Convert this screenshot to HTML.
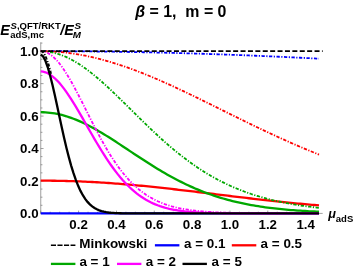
<!DOCTYPE html>
<html><head><meta charset="utf-8">
<style>
html,body{margin:0;padding:0;background:#fff;}
body{width:354px;height:272px;overflow:hidden;}
svg{display:block;will-change:transform;}
text{font-family:"Liberation Sans",sans-serif;font-weight:bold;fill:#000;}
.tk{font-size:13.3px;}
.lg{font-size:13.45px;}
.it{font-style:italic;}
</style></head><body>
<svg width="354" height="272" viewBox="0 0 354 272">
<rect width="354" height="272" fill="#fff"/>
<path d="M40.75,42.28 V213.40 M40.75,213.40 H322.66" stroke="#606060" stroke-width="0.6" fill="none"/>
<path d="M40.75,213.40 h2.8 M40.75,205.29 h1.7 M40.75,197.18 h1.7 M40.75,189.07 h1.7 M40.75,180.96 h2.8 M40.75,172.85 h1.7 M40.75,164.74 h1.7 M40.75,156.63 h1.7 M40.75,148.52 h2.8 M40.75,140.41 h1.7 M40.75,132.30 h1.7 M40.75,124.19 h1.7 M40.75,116.08 h2.8 M40.75,107.97 h1.7 M40.75,99.86 h1.7 M40.75,91.75 h1.7 M40.75,83.64 h2.8 M40.75,75.53 h1.7 M40.75,67.42 h1.7 M40.75,59.31 h1.7 M40.75,51.20 h2.8 M40.75,43.09 h1.7 M40.75,213.40 v-2.8 M50.21,213.40 v-1.7 M59.67,213.40 v-1.7 M69.13,213.40 v-1.7 M78.59,213.40 v-2.8 M88.05,213.40 v-1.7 M97.51,213.40 v-1.7 M106.97,213.40 v-1.7 M116.43,213.40 v-2.8 M125.89,213.40 v-1.7 M135.35,213.40 v-1.7 M144.81,213.40 v-1.7 M154.27,213.40 v-2.8 M163.73,213.40 v-1.7 M173.19,213.40 v-1.7 M182.65,213.40 v-1.7 M192.11,213.40 v-2.8 M201.57,213.40 v-1.7 M211.03,213.40 v-1.7 M220.49,213.40 v-1.7 M229.95,213.40 v-2.8 M239.41,213.40 v-1.7 M248.87,213.40 v-1.7 M258.33,213.40 v-1.7 M267.79,213.40 v-2.8 M277.25,213.40 v-1.7 M286.71,213.40 v-1.7 M296.17,213.40 v-1.7 M305.63,213.40 v-2.8 M315.09,213.40 v-1.7" stroke="#606060" stroke-width="0.6" fill="none"/>
<path d="M40.75,51.20 L43.09,51.20 L45.43,51.20 L47.76,51.20 L50.10,51.21 L52.44,51.21 L54.78,51.22 L57.12,51.23 L59.46,51.23 L61.79,51.24 L64.13,51.25 L66.47,51.27 L68.81,51.28 L71.15,51.29 L73.49,51.31 L75.82,51.32 L78.16,51.34 L80.50,51.36 L82.84,51.38 L85.18,51.40 L87.52,51.42 L89.85,51.44 L92.19,51.46 L94.53,51.49 L96.87,51.51 L99.21,51.54 L101.55,51.57 L103.88,51.60 L106.22,51.63 L108.56,51.66 L110.90,51.69 L113.24,51.72 L115.58,51.76 L117.91,51.79 L120.25,51.83 L122.59,51.87 L124.93,51.90 L127.27,51.94 L129.60,51.98 L131.94,52.03 L134.28,52.07 L136.62,52.11 L138.96,52.16 L141.30,52.20 L143.63,52.25 L145.97,52.30 L148.31,52.35 L150.65,52.40 L152.99,52.45 L155.33,52.50 L157.66,52.56 L160.00,52.61 L162.34,52.67 L164.68,52.72 L167.02,52.78 L169.36,52.84 L171.69,52.90 L174.03,52.96 L176.37,53.02 L178.71,53.08 L181.05,53.15 L183.39,53.21 L185.72,53.28 L188.06,53.35 L190.40,53.41 L192.74,53.48 L195.08,53.55 L197.42,53.62 L199.75,53.70 L202.09,53.77 L204.43,53.84 L206.77,53.92 L209.11,54.00 L211.45,54.07 L213.78,54.15 L216.12,54.23 L218.46,54.31 L220.80,54.39 L223.14,54.48 L225.47,54.56 L227.81,54.64 L230.15,54.73 L232.49,54.82 L234.83,54.90 L237.17,54.99 L239.50,55.08 L241.84,55.17 L244.18,55.26 L246.52,55.36 L248.86,55.45 L251.20,55.54 L253.53,55.64 L255.87,55.74 L258.21,55.83 L260.55,55.93 L262.89,56.03 L265.23,56.13 L267.56,56.23 L269.90,56.34 L272.24,56.44 L274.58,56.54 L276.92,56.65 L279.26,56.76 L281.59,56.86 L283.93,56.97 L286.27,57.08 L288.61,57.19 L290.95,57.30 L293.29,57.41 L295.62,57.53 L297.96,57.64 L300.30,57.75 L302.64,57.87 L304.98,57.99 L307.31,58.10 L309.65,58.22 L311.99,58.34 L314.33,58.46 L316.67,58.58 L319.01,58.71" stroke="#0000ff" stroke-width="1.8" stroke-dasharray="3.3 1.5 1.2 1.5" stroke-dashoffset="4.2" fill="none"/>
<path d="M40.75,213.40 L43.09,213.40 L45.43,213.40 L47.76,213.40 L50.10,213.40 L52.44,213.40 L54.78,213.40 L57.12,213.40 L59.46,213.40 L61.79,213.40 L64.13,213.40 L66.47,213.40 L68.81,213.40 L71.15,213.40 L73.49,213.40 L75.82,213.40 L78.16,213.40 L80.50,213.40 L82.84,213.40 L85.18,213.40 L87.52,213.40 L89.85,213.40 L92.19,213.40 L94.53,213.40 L96.87,213.40 L99.21,213.40 L101.55,213.40 L103.88,213.40 L106.22,213.40 L108.56,213.40 L110.90,213.40 L113.24,213.40 L115.58,213.40 L117.91,213.40 L120.25,213.40 L122.59,213.40 L124.93,213.40 L127.27,213.40 L129.60,213.40 L131.94,213.40 L134.28,213.40 L136.62,213.40 L138.96,213.40 L141.30,213.40 L143.63,213.40 L145.97,213.40 L148.31,213.40 L150.65,213.40 L152.99,213.40 L155.33,213.40 L157.66,213.40 L160.00,213.40 L162.34,213.40 L164.68,213.40 L167.02,213.40 L169.36,213.40 L171.69,213.40 L174.03,213.40 L176.37,213.40 L178.71,213.40 L181.05,213.40 L183.39,213.40 L185.72,213.40 L188.06,213.40 L190.40,213.40 L192.74,213.40 L195.08,213.40 L197.42,213.40 L199.75,213.40 L202.09,213.40 L204.43,213.40 L206.77,213.40 L209.11,213.40 L211.45,213.40 L213.78,213.40 L216.12,213.40 L218.46,213.40 L220.80,213.40 L223.14,213.40 L225.47,213.40 L227.81,213.40 L230.15,213.40 L232.49,213.40 L234.83,213.40 L237.17,213.40 L239.50,213.40 L241.84,213.40 L244.18,213.40 L246.52,213.40 L248.86,213.40 L251.20,213.40 L253.53,213.40 L255.87,213.40 L258.21,213.40 L260.55,213.40 L262.89,213.40 L265.23,213.40 L267.56,213.40 L269.90,213.40 L272.24,213.40 L274.58,213.40 L276.92,213.40 L279.26,213.40 L281.59,213.40 L283.93,213.40 L286.27,213.40 L288.61,213.40 L290.95,213.40 L293.29,213.40 L295.62,213.40 L297.96,213.40 L300.30,213.40 L302.64,213.40 L304.98,213.40 L307.31,213.40 L309.65,213.40 L311.99,213.40 L314.33,213.40 L316.67,213.40 L319.01,213.40" stroke="#0000ff" stroke-width="2.3" fill="none"/>
<path d="M40.75,51.20 L43.09,51.21 L45.43,51.25 L47.76,51.31 L50.10,51.40 L52.44,51.52 L54.78,51.65 L57.12,51.82 L59.46,52.01 L61.79,52.22 L64.13,52.46 L66.47,52.72 L68.81,53.01 L71.15,53.32 L73.49,53.65 L75.82,54.01 L78.16,54.40 L80.50,54.80 L82.84,55.23 L85.18,55.68 L87.52,56.16 L89.85,56.66 L92.19,57.18 L94.53,57.72 L96.87,58.29 L99.21,58.87 L101.55,59.48 L103.88,60.11 L106.22,60.76 L108.56,61.42 L110.90,62.11 L113.24,62.82 L115.58,63.55 L117.91,64.29 L120.25,65.06 L122.59,65.84 L124.93,66.64 L127.27,67.46 L129.60,68.29 L131.94,69.15 L134.28,70.01 L136.62,70.89 L138.96,71.79 L141.30,72.71 L143.63,73.63 L145.97,74.57 L148.31,75.53 L150.65,76.50 L152.99,77.48 L155.33,78.47 L157.66,79.47 L160.00,80.49 L162.34,81.51 L164.68,82.55 L167.02,83.60 L169.36,84.65 L171.69,85.72 L174.03,86.79 L176.37,87.88 L178.71,88.97 L181.05,90.06 L183.39,91.17 L185.72,92.28 L188.06,93.40 L190.40,94.52 L192.74,95.65 L195.08,96.78 L197.42,97.92 L199.75,99.06 L202.09,100.20 L204.43,101.35 L206.77,102.50 L209.11,103.65 L211.45,104.81 L213.78,105.96 L216.12,107.12 L218.46,108.28 L220.80,109.44 L223.14,110.60 L225.47,111.75 L227.81,112.91 L230.15,114.07 L232.49,115.22 L234.83,116.38 L237.17,117.53 L239.50,118.68 L241.84,119.82 L244.18,120.97 L246.52,122.11 L248.86,123.24 L251.20,124.38 L253.53,125.51 L255.87,126.63 L258.21,127.75 L260.55,128.87 L262.89,129.97 L265.23,131.08 L267.56,132.18 L269.90,133.27 L272.24,134.36 L274.58,135.44 L276.92,136.51 L279.26,137.58 L281.59,138.64 L283.93,139.69 L286.27,140.74 L288.61,141.78 L290.95,142.81 L293.29,143.84 L295.62,144.85 L297.96,145.86 L300.30,146.86 L302.64,147.85 L304.98,148.83 L307.31,149.81 L309.65,150.77 L311.99,151.73 L314.33,152.68 L316.67,153.62 L319.01,154.55" stroke="#ff0000" stroke-width="1.8" stroke-dasharray="3.3 1.5 1.2 1.5" stroke-dashoffset="2.2" fill="none"/>
<path d="M40.75,180.68 L43.09,180.69 L45.43,180.69 L47.76,180.71 L50.10,180.72 L52.44,180.75 L54.78,180.77 L57.12,180.81 L59.46,180.85 L61.79,180.89 L64.13,180.95 L66.47,181.00 L68.81,181.07 L71.15,181.13 L73.49,181.21 L75.82,181.29 L78.16,181.38 L80.50,181.47 L82.84,181.57 L85.18,181.67 L87.52,181.78 L89.85,181.89 L92.19,182.02 L94.53,182.14 L96.87,182.27 L99.21,182.41 L101.55,182.56 L103.88,182.70 L106.22,182.86 L108.56,183.02 L110.90,183.18 L113.24,183.35 L115.58,183.53 L117.91,183.70 L120.25,183.89 L122.59,184.08 L124.93,184.27 L127.27,184.47 L129.60,184.67 L131.94,184.88 L134.28,185.09 L136.62,185.31 L138.96,185.53 L141.30,185.75 L143.63,185.98 L145.97,186.21 L148.31,186.45 L150.65,186.69 L152.99,186.93 L155.33,187.18 L157.66,187.42 L160.00,187.68 L162.34,187.93 L164.68,188.19 L167.02,188.45 L169.36,188.71 L171.69,188.98 L174.03,189.24 L176.37,189.51 L178.71,189.78 L181.05,190.06 L183.39,190.33 L185.72,190.61 L188.06,190.89 L190.40,191.17 L192.74,191.45 L195.08,191.73 L197.42,192.01 L199.75,192.30 L202.09,192.58 L204.43,192.87 L206.77,193.15 L209.11,193.44 L211.45,193.72 L213.78,194.01 L216.12,194.30 L218.46,194.58 L220.80,194.87 L223.14,195.15 L225.47,195.44 L227.81,195.72 L230.15,196.01 L232.49,196.29 L234.83,196.57 L237.17,196.85 L239.50,197.13 L241.84,197.41 L244.18,197.69 L246.52,197.96 L248.86,198.24 L251.20,198.51 L253.53,198.78 L255.87,199.05 L258.21,199.32 L260.55,199.58 L262.89,199.85 L265.23,200.11 L267.56,200.37 L269.90,200.63 L272.24,200.88 L274.58,201.13 L276.92,201.38 L279.26,201.63 L281.59,201.88 L283.93,202.12 L286.27,202.36 L288.61,202.60 L290.95,202.83 L293.29,203.06 L295.62,203.29 L297.96,203.52 L300.30,203.74 L302.64,203.96 L304.98,204.18 L307.31,204.39 L309.65,204.60 L311.99,204.81 L314.33,205.02 L316.67,205.22 L319.01,205.42" stroke="#ff0000" stroke-width="2.3" fill="none"/>
<path d="M40.75,51.20 L43.09,51.25 L45.43,51.40 L47.76,51.65 L50.10,52.01 L52.44,52.46 L54.78,53.01 L57.12,53.65 L59.46,54.40 L61.79,55.23 L64.13,56.16 L66.47,57.18 L68.81,58.29 L71.15,59.48 L73.49,60.76 L75.82,62.11 L78.16,63.55 L80.50,65.06 L82.84,66.64 L85.18,68.30 L87.52,70.01 L89.85,71.79 L92.19,73.63 L94.53,75.53 L96.87,77.48 L99.21,79.48 L101.55,81.52 L103.88,83.60 L106.22,85.72 L108.56,87.88 L110.90,90.07 L113.24,92.29 L115.58,94.53 L117.91,96.79 L120.25,99.07 L122.59,101.36 L124.93,103.66 L127.27,105.97 L129.60,108.29 L131.94,110.61 L134.28,112.92 L136.62,115.24 L138.96,117.54 L141.30,119.84 L143.63,122.12 L145.97,124.39 L148.31,126.65 L150.65,128.88 L152.99,131.10 L155.33,133.29 L157.66,135.46 L160.00,137.60 L162.34,139.72 L164.68,141.80 L167.02,143.86 L169.36,145.88 L171.69,147.87 L174.03,149.83 L176.37,151.76 L178.71,153.65 L181.05,155.50 L183.39,157.32 L185.72,159.09 L188.06,160.84 L190.40,162.54 L192.74,164.21 L195.08,165.83 L197.42,167.42 L199.75,168.97 L202.09,170.49 L204.43,171.96 L206.77,173.40 L209.11,174.80 L211.45,176.16 L213.78,177.48 L216.12,178.77 L218.46,180.02 L220.80,181.24 L223.14,182.41 L225.47,183.56 L227.81,184.67 L230.15,185.74 L232.49,186.79 L234.83,187.80 L237.17,188.77 L239.50,189.72 L241.84,190.63 L244.18,191.52 L246.52,192.37 L248.86,193.20 L251.20,194.00 L253.53,194.77 L255.87,195.51 L258.21,196.23 L260.55,196.92 L262.89,197.59 L265.23,198.23 L267.56,198.85 L269.90,199.45 L272.24,200.02 L274.58,200.58 L276.92,201.11 L279.26,201.62 L281.59,202.12 L283.93,202.59 L286.27,203.05 L288.61,203.49 L290.95,203.91 L293.29,204.31 L295.62,204.70 L297.96,205.08 L300.30,205.43 L302.64,205.78 L304.98,206.11 L307.31,206.43 L309.65,206.73 L311.99,207.02 L314.33,207.30 L316.67,207.57 L319.01,207.83" stroke="#00a800" stroke-width="1.8" stroke-dasharray="3.3 1.5 1.2 1.5" stroke-dashoffset="5.6" fill="none"/>
<path d="M40.75,112.22 L43.09,112.25 L45.43,112.36 L47.76,112.53 L50.10,112.77 L52.44,113.07 L54.78,113.45 L57.12,113.89 L59.46,114.39 L61.79,114.96 L64.13,115.59 L66.47,116.28 L68.81,117.04 L71.15,117.85 L73.49,118.71 L75.82,119.64 L78.16,120.61 L80.50,121.64 L82.84,122.71 L85.18,123.83 L87.52,125.00 L89.85,126.21 L92.19,127.45 L94.53,128.74 L96.87,130.06 L99.21,131.41 L101.55,132.79 L103.88,134.20 L106.22,135.64 L108.56,137.10 L110.90,138.58 L113.24,140.07 L115.58,141.58 L117.91,143.11 L120.25,144.64 L122.59,146.19 L124.93,147.73 L127.27,149.29 L129.60,150.84 L131.94,152.39 L134.28,153.94 L136.62,155.49 L138.96,157.03 L141.30,158.56 L143.63,160.08 L145.97,161.59 L148.31,163.08 L150.65,164.56 L152.99,166.03 L155.33,167.47 L157.66,168.90 L160.00,170.30 L162.34,171.69 L164.68,173.05 L167.02,174.39 L169.36,175.71 L171.69,177.00 L174.03,178.26 L176.37,179.50 L178.71,180.71 L181.05,181.90 L183.39,183.06 L185.72,184.19 L188.06,185.29 L190.40,186.37 L192.74,187.41 L195.08,188.43 L197.42,189.42 L199.75,190.38 L202.09,191.32 L204.43,192.22 L206.77,193.10 L209.11,193.95 L211.45,194.78 L213.78,195.57 L216.12,196.34 L218.46,197.09 L220.80,197.81 L223.14,198.50 L225.47,199.17 L227.81,199.81 L230.15,200.44 L232.49,201.03 L234.83,201.61 L237.17,202.16 L239.50,202.69 L241.84,203.20 L244.18,203.69 L246.52,204.16 L248.86,204.61 L251.20,205.05 L253.53,205.46 L255.87,205.86 L258.21,206.23 L260.55,206.60 L262.89,206.94 L265.23,207.27 L267.56,207.59 L269.90,207.89 L272.24,208.18 L274.58,208.45 L276.92,208.71 L279.26,208.96 L281.59,209.20 L283.93,209.43 L286.27,209.64 L288.61,209.85 L290.95,210.04 L293.29,210.22 L295.62,210.40 L297.96,210.57 L300.30,210.72 L302.64,210.87 L304.98,211.02 L307.31,211.15 L309.65,211.28 L311.99,211.40 L314.33,211.51 L316.67,211.62 L319.01,211.73" stroke="#00a800" stroke-width="2.3" fill="none"/>
<path d="M40.75,51.20 L43.09,51.40 L45.43,52.00 L47.76,53.00 L50.10,54.39 L52.44,56.15 L54.78,58.27 L57.12,60.73 L59.46,63.52 L61.79,66.61 L64.13,69.98 L66.47,73.60 L68.81,77.44 L71.15,81.49 L73.49,85.70 L75.82,90.06 L78.16,94.53 L80.50,99.08 L82.84,103.70 L85.18,108.35 L87.52,113.01 L89.85,117.65 L92.19,122.26 L94.53,126.82 L96.87,131.31 L99.21,135.70 L101.55,140.00 L103.88,144.17 L106.22,148.23 L108.56,152.14 L110.90,155.92 L113.24,159.55 L115.58,163.03 L117.91,166.35 L120.25,169.52 L122.59,172.53 L124.93,175.39 L127.27,178.09 L129.60,180.65 L131.94,183.06 L134.28,185.32 L136.62,187.44 L138.96,189.44 L141.30,191.30 L143.63,193.04 L145.97,194.66 L148.31,196.17 L150.65,197.57 L152.99,198.87 L155.33,200.08 L157.66,201.20 L160.00,202.23 L162.34,203.18 L164.68,204.06 L167.02,204.87 L169.36,205.61 L171.69,206.30 L174.03,206.92 L176.37,207.50 L178.71,208.03 L181.05,208.51 L183.39,208.96 L185.72,209.36 L188.06,209.73 L190.40,210.07 L192.74,210.38 L195.08,210.66 L197.42,210.91 L199.75,211.14 L202.09,211.36 L204.43,211.55 L206.77,211.72 L209.11,211.88 L211.45,212.03 L213.78,212.16 L216.12,212.28 L218.46,212.38 L220.80,212.48 L223.14,212.57 L225.47,212.65 L227.81,212.72 L230.15,212.79 L232.49,212.85 L234.83,212.90 L237.17,212.95 L239.50,212.99 L241.84,213.03 L244.18,213.07 L246.52,213.10 L248.86,213.13 L251.20,213.16 L253.53,213.18 L255.87,213.20 L258.21,213.22 L260.55,213.24 L262.89,213.26 L265.23,213.27 L267.56,213.28 L269.90,213.30 L272.24,213.31 L274.58,213.32 L276.92,213.32 L279.26,213.33 L281.59,213.34 L283.93,213.34 L286.27,213.35 L288.61,213.35 L290.95,213.36 L293.29,213.36 L295.62,213.37 L297.96,213.37 L300.30,213.37 L302.64,213.38 L304.98,213.38 L307.31,213.38 L309.65,213.38 L311.99,213.38 L314.33,213.39 L316.67,213.39 L319.01,213.39" stroke="#ff00ff" stroke-width="1.8" stroke-dasharray="3.3 1.5 1.2 1.5" stroke-dashoffset="0.8" fill="none"/>
<path d="M40.75,71.46 L43.09,71.68 L45.43,72.31 L47.76,73.30 L50.10,74.64 L52.44,76.31 L54.78,78.28 L57.12,80.55 L59.46,83.09 L61.79,85.88 L64.13,88.90 L66.47,92.13 L68.81,95.54 L71.15,99.12 L73.49,102.83 L75.82,106.67 L78.16,110.60 L80.50,114.60 L82.84,118.66 L85.18,122.75 L87.52,126.85 L89.85,130.95 L92.19,135.02 L94.53,139.05 L96.87,143.02 L99.21,146.93 L101.55,150.75 L103.88,154.47 L106.22,158.10 L108.56,161.60 L110.90,164.99 L113.24,168.25 L115.58,171.38 L117.91,174.38 L120.25,177.23 L122.59,179.95 L124.93,182.53 L127.27,184.96 L129.60,187.26 L131.94,189.42 L134.28,191.45 L136.62,193.35 L138.96,195.12 L141.30,196.77 L143.63,198.30 L145.97,199.72 L148.31,201.03 L150.65,202.23 L152.99,203.34 L155.33,204.36 L157.66,205.29 L160.00,206.14 L162.34,206.92 L164.68,207.62 L167.02,208.25 L169.36,208.83 L171.69,209.35 L174.03,209.82 L176.37,210.24 L178.71,210.61 L181.05,210.95 L183.39,211.25 L185.72,211.52 L188.06,211.75 L190.40,211.96 L192.74,212.15 L195.08,212.31 L197.42,212.46 L199.75,212.58 L202.09,212.70 L204.43,212.79 L206.77,212.88 L209.11,212.95 L211.45,213.02 L213.78,213.07 L216.12,213.12 L218.46,213.16 L220.80,213.20 L223.14,213.23 L225.47,213.25 L227.81,213.28 L230.15,213.30 L232.49,213.31 L234.83,213.33 L237.17,213.34 L239.50,213.35 L241.84,213.36 L244.18,213.36 L246.52,213.37 L248.86,213.37 L251.20,213.38 L253.53,213.38 L255.87,213.39 L258.21,213.39 L260.55,213.39 L262.89,213.39 L265.23,213.39 L267.56,213.39 L269.90,213.40 L272.24,213.40 L274.58,213.40 L276.92,213.40 L279.26,213.40 L281.59,213.40 L283.93,213.40 L286.27,213.40 L288.61,213.40 L290.95,213.40 L293.29,213.40 L295.62,213.40 L297.96,213.40 L300.30,213.40 L302.64,213.40 L304.98,213.40 L307.31,213.40 L309.65,213.40 L311.99,213.40 L314.33,213.40 L316.67,213.40 L319.01,213.40" stroke="#ff00ff" stroke-width="2.3" fill="none"/>
<path d="M40.75,51.20 L40.84,51.20 L40.92,51.21 L41.01,51.22 L41.10,51.23 L41.19,51.24 L41.27,51.26 L41.36,51.28 L41.45,51.31 L41.54,51.34 L41.62,51.37 L41.71,51.41 L41.80,51.45 L41.89,51.49 L41.97,51.54 L42.06,51.59 L42.15,51.64 L42.24,51.70 L42.32,51.76 L42.41,51.82 L42.50,51.89 L42.59,51.96 L42.67,52.04 L42.76,52.11 L42.85,52.19 L42.94,52.28 L43.02,52.37 L43.11,52.46 L43.20,52.55 L43.29,52.65 L43.37,52.75 L43.46,52.85 L43.55,52.96 L43.64,53.07 L43.72,53.19 L43.81,53.31 L43.90,53.43 L43.99,53.55 L44.07,53.68 L44.16,53.81 L44.25,53.94 L44.34,54.08 L44.42,54.22 L44.51,54.37 L44.60,54.51 L44.69,54.66 L44.77,54.82 L44.86,54.97 L44.95,55.13 L45.03,55.30 L45.12,55.46 L45.21,55.63 L45.30,55.81 L45.38,55.98 L45.47,56.16 L45.56,56.34 L45.65,56.53 L45.73,56.72 L45.82,56.91 L45.91,57.10 L46.00,57.30 L46.08,57.50 L46.17,57.70 L46.26,57.91 L46.35,58.12 L46.43,58.33 L46.52,58.55 L46.61,58.76 L46.70,58.98 L46.78,59.21 L46.87,59.44 L46.96,59.67 L47.05,59.90 L47.13,60.13 L47.22,60.37 L47.31,60.61 L47.40,60.86 L47.48,61.10 L47.57,61.35 L47.66,61.60 L47.75,61.86 L47.83,62.12 L47.92,62.38 L48.01,62.64 L48.10,62.90 L48.18,63.17 L48.27,63.44 L48.36,63.72 L48.45,63.99 L48.53,64.27 L48.62,64.55 L48.71,64.83 L48.79,65.12 L48.88,65.41 L48.97,65.70 L49.06,65.99 L49.14,66.29 L49.23,66.59 L49.32,66.89 L49.41,67.19 L49.49,67.49 L49.58,67.80 L49.67,68.11 L49.76,68.42 L49.84,68.74 L49.93,69.05 L50.02,69.37 L50.11,69.69 L50.19,70.02 L50.28,70.34 L50.37,70.67 L50.46,71.00 L50.54,71.33 L50.63,71.66 L50.72,72.00 L50.81,72.34 L50.89,72.68 L50.98,73.02 L51.07,73.36 L51.16,73.71" stroke="#000000" stroke-width="1.8" stroke-dasharray="3.3 1.5 1.2 1.5" stroke-dashoffset="0" fill="none"/>
<path d="M40.75,54.56 L43.09,56.35 L45.43,60.78 L47.76,67.29 L50.10,75.43 L52.44,84.82 L54.78,95.07 L57.12,105.82 L59.46,116.74 L61.79,127.55 L64.13,138.00 L66.47,147.92 L68.81,157.14 L71.15,165.58 L73.49,173.18 L75.82,179.92 L78.16,185.82 L80.50,190.91 L82.84,195.24 L85.18,198.89 L87.52,201.91 L89.85,204.40 L92.19,206.41 L94.53,208.03 L96.87,209.31 L99.21,210.31 L101.55,211.09 L103.88,211.69 L106.22,212.15 L108.56,212.49 L110.90,212.74 L113.24,212.93 L115.58,213.07 L117.91,213.17 L120.25,213.24 L122.59,213.29 L124.93,213.32 L127.27,213.35 L129.60,213.37 L131.94,213.38 L134.28,213.38 L136.62,213.39 L138.96,213.39 L141.30,213.40 L143.63,213.40 L145.97,213.40 L148.31,213.40 L150.65,213.40 L152.99,213.40 L155.33,213.40 L157.66,213.40 L160.00,213.40 L162.34,213.40 L164.68,213.40 L167.02,213.40 L169.36,213.40 L171.69,213.40 L174.03,213.40 L176.37,213.40 L178.71,213.40 L181.05,213.40 L183.39,213.40 L185.72,213.40 L188.06,213.40 L190.40,213.40 L192.74,213.40 L195.08,213.40 L197.42,213.40 L199.75,213.40 L202.09,213.40 L204.43,213.40 L206.77,213.40 L209.11,213.40 L211.45,213.40 L213.78,213.40 L216.12,213.40 L218.46,213.40 L220.80,213.40 L223.14,213.40 L225.47,213.40 L227.81,213.40 L230.15,213.40 L232.49,213.40 L234.83,213.40 L237.17,213.40 L239.50,213.40 L241.84,213.40 L244.18,213.40 L246.52,213.40 L248.86,213.40 L251.20,213.40 L253.53,213.40 L255.87,213.40 L258.21,213.40 L260.55,213.40 L262.89,213.40 L265.23,213.40 L267.56,213.40 L269.90,213.40 L272.24,213.40 L274.58,213.40 L276.92,213.40 L279.26,213.40 L281.59,213.40 L283.93,213.40 L286.27,213.40 L288.61,213.40 L290.95,213.40 L293.29,213.40 L295.62,213.40 L297.96,213.40 L300.30,213.40 L302.64,213.40 L304.98,213.40 L307.31,213.40 L309.65,213.40 L311.99,213.40 L314.33,213.40 L316.67,213.40 L319.01,213.40" stroke="#000000" stroke-width="2.3" fill="none"/>
<path d="M40.75,51.20 L322.66,51.20" stroke="#000" stroke-width="1.7" stroke-dasharray="5 2.4" fill="none"/>
<text x="38.6" y="218.10" text-anchor="end" class="tk">0.0</text>
<text x="38.6" y="185.66" text-anchor="end" class="tk">0.2</text>
<text x="38.6" y="153.22" text-anchor="end" class="tk">0.4</text>
<text x="38.6" y="120.78" text-anchor="end" class="tk">0.6</text>
<text x="38.6" y="88.34" text-anchor="end" class="tk">0.8</text>
<text x="38.6" y="55.90" text-anchor="end" class="tk">1.0</text>
<text x="78.59" y="228.6" text-anchor="middle" class="tk">0.2</text>
<text x="116.43" y="228.6" text-anchor="middle" class="tk">0.4</text>
<text x="154.27" y="228.6" text-anchor="middle" class="tk">0.6</text>
<text x="192.11" y="228.6" text-anchor="middle" class="tk">0.8</text>
<text x="229.95" y="228.6" text-anchor="middle" class="tk">1.0</text>
<text x="267.79" y="228.6" text-anchor="middle" class="tk">1.2</text>
<text x="305.63" y="228.6" text-anchor="middle" class="tk">1.4</text>
<!-- title -->
<text x="135.3" y="17.3" font-size="15.9" xml:space="preserve" style="white-space:pre"><tspan class="it">β</tspan> = 1,  m = 0</text>
<!-- y label -->
<text x="0.3" y="35" font-size="14.3" class="it">E</text>
<text x="10.6" y="28.8" font-size="9.5"><tspan class="it">S</tspan>,QFT/RKT</text>
<text x="10.2" y="37.8" font-size="9.5">adS,mc</text>
<text x="60.3" y="35" font-size="14.3" class="it">/E</text>
<text x="74.5" y="29" font-size="9.8" class="it">S</text>
<text x="72.8" y="37.6" font-size="9.8" class="it">M</text>
<!-- x label -->
<text x="328.3" y="218.2" font-size="12.7" class="it">μ</text>
<text x="335.8" y="221.8" font-size="9.5">adS</text>
<!-- legend -->
<path d="M50.9,245.3 H75.4" stroke="#000" stroke-width="1.6" stroke-dasharray="5.1 1.45"/>
<text x="79.3" y="248.4" class="lg">Minkowski</text>
<path d="M154.9,245.3 H179.4" stroke="#0000ff" stroke-width="2.3"/>
<text x="184" y="248.4" class="lg">a = 0.1</text>
<path d="M231.8,245.3 H256.3" stroke="#ff0000" stroke-width="2.3"/>
<text x="260.6" y="248.4" class="lg">a = 0.5</text>
<path d="M50.9,263.9 H75.4" stroke="#00a800" stroke-width="2.3"/>
<text x="79.4" y="266.4" class="lg">a = 1</text>
<path d="M117,263.9 H141.4" stroke="#ff00ff" stroke-width="2.3"/>
<text x="145.8" y="266.4" class="lg">a = 2</text>
<path d="M182.5,263.9 H206.9" stroke="#000" stroke-width="2.3"/>
<text x="211.6" y="266.4" class="lg">a = 5</text>
</svg>
</body></html>
